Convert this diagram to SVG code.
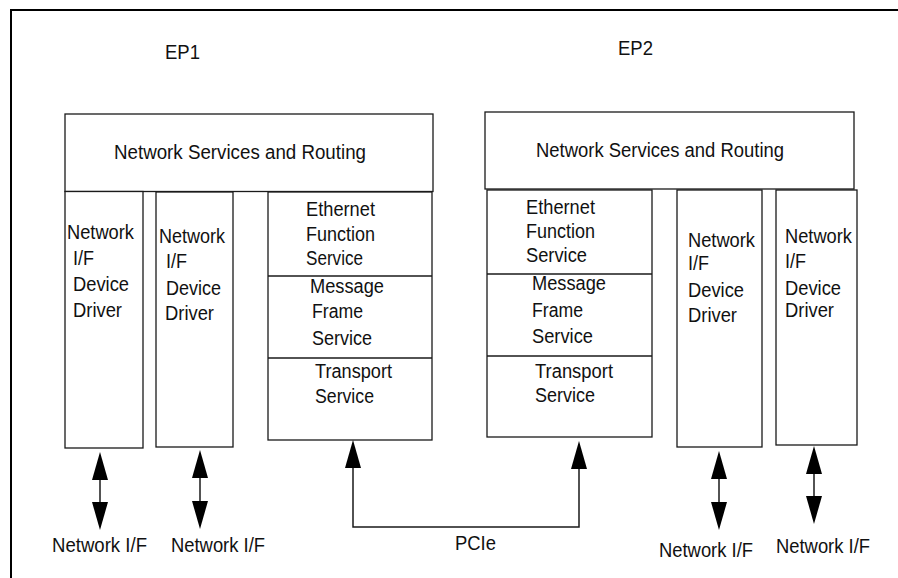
<svg xmlns="http://www.w3.org/2000/svg" width="898" height="578" viewBox="0 0 898 578">
<style>
.box{fill:#fff;stroke:#1a1a1a;stroke-width:1.3}
.t{font-family:"Liberation Sans",Arial,sans-serif;font-size:20px;fill:#111}
.c{fill:none;stroke:#1a1a1a;stroke-width:1.5}
</style>
<defs>
<marker id="ah" viewBox="0 0 28 16" refX="0" refY="8" markerWidth="28" markerHeight="16" markerUnits="userSpaceOnUse" orient="auto-start-reverse">
<path d="M0,0 L28,8 L0,16 z" fill="#000"/>
</marker>
</defs>
<rect width="898" height="578" fill="#fff"/>
<g id="frame">
<path d="M11,578 V10 H898" fill="none" stroke="#000" stroke-width="2"/>
</g>
<g id="ep1-label"><text class="t" x="165" y="59" textLength="35" lengthAdjust="spacingAndGlyphs">EP1</text></g>
<g id="ep2-label"><text class="t" x="618" y="55" textLength="35" lengthAdjust="spacingAndGlyphs">EP2</text></g>

<g id="nsr1">
<rect class="box" x="65" y="114" width="368" height="77.5"/>
<text class="t" x="114" y="159" textLength="252" lengthAdjust="spacingAndGlyphs">Network Services and Routing</text>
</g>
<g id="nsr2">
<rect class="box" x="485" y="112" width="369" height="77"/>
<text class="t" x="536" y="157" textLength="248" lengthAdjust="spacingAndGlyphs">Network Services and Routing</text>
</g>

<g id="drv1">
<rect class="box" x="65" y="191.5" width="78" height="256.5"/>
<text class="t" x="67" y="239" textLength="67" lengthAdjust="spacingAndGlyphs">Network</text>
<text class="t" x="73" y="265" textLength="21" lengthAdjust="spacingAndGlyphs">I/F</text>
<text class="t" x="73" y="291" textLength="56" lengthAdjust="spacingAndGlyphs">Device</text>
<text class="t" x="73" y="317" textLength="49" lengthAdjust="spacingAndGlyphs">Driver</text>
</g>
<g id="drv2">
<rect class="box" x="156" y="192" width="77" height="255"/>
<text class="t" x="159" y="243" textLength="66" lengthAdjust="spacingAndGlyphs">Network</text>
<text class="t" x="166" y="268" textLength="21" lengthAdjust="spacingAndGlyphs">I/F</text>
<text class="t" x="166" y="295" textLength="55" lengthAdjust="spacingAndGlyphs">Device</text>
<text class="t" x="165" y="320" textLength="49" lengthAdjust="spacingAndGlyphs">Driver</text>
</g>

<g id="stack1">
<rect class="box" x="268" y="192" width="164" height="248"/>
<line class="box" x1="268" y1="276" x2="432" y2="276"/>
<line class="box" x1="268" y1="358" x2="432" y2="358"/>
<text class="t" x="306" y="216" textLength="69" lengthAdjust="spacingAndGlyphs">Ethernet</text>
<text class="t" x="306" y="241" textLength="69" lengthAdjust="spacingAndGlyphs">Function</text>
<text class="t" x="306" y="265" textLength="57" lengthAdjust="spacingAndGlyphs">Service</text>
<text class="t" x="310" y="293" textLength="74" lengthAdjust="spacingAndGlyphs">Message</text>
<text class="t" x="312" y="318" textLength="51" lengthAdjust="spacingAndGlyphs">Frame</text>
<text class="t" x="312" y="345" textLength="60" lengthAdjust="spacingAndGlyphs">Service</text>
<text class="t" x="315" y="378" textLength="77" lengthAdjust="spacingAndGlyphs">Transport</text>
<text class="t" x="315" y="403" textLength="59" lengthAdjust="spacingAndGlyphs">Service</text>
</g>

<g id="stack2">
<rect class="box" x="487" y="190" width="165" height="247"/>
<line class="box" x1="487" y1="274" x2="652" y2="274"/>
<line class="box" x1="487" y1="356" x2="652" y2="356"/>
<text class="t" x="526" y="214" textLength="69" lengthAdjust="spacingAndGlyphs">Ethernet</text>
<text class="t" x="526" y="238" textLength="69" lengthAdjust="spacingAndGlyphs">Function</text>
<text class="t" x="526" y="262" textLength="61" lengthAdjust="spacingAndGlyphs">Service</text>
<text class="t" x="532" y="290" textLength="74" lengthAdjust="spacingAndGlyphs">Message</text>
<text class="t" x="532" y="317" textLength="51" lengthAdjust="spacingAndGlyphs">Frame</text>
<text class="t" x="532" y="343" textLength="61" lengthAdjust="spacingAndGlyphs">Service</text>
<text class="t" x="535" y="378" textLength="78" lengthAdjust="spacingAndGlyphs">Transport</text>
<text class="t" x="535" y="402" textLength="60" lengthAdjust="spacingAndGlyphs">Service</text>
</g>

<g id="drv3">
<rect class="box" x="677" y="190" width="85" height="257"/>
<text class="t" x="688" y="247" textLength="67" lengthAdjust="spacingAndGlyphs">Network</text>
<text class="t" x="688" y="270" textLength="21" lengthAdjust="spacingAndGlyphs">I/F</text>
<text class="t" x="688" y="297" textLength="56" lengthAdjust="spacingAndGlyphs">Device</text>
<text class="t" x="688" y="322" textLength="49" lengthAdjust="spacingAndGlyphs">Driver</text>
</g>
<g id="drv4">
<rect class="box" x="776" y="190" width="81" height="255"/>
<text class="t" x="785" y="243" textLength="67" lengthAdjust="spacingAndGlyphs">Network</text>
<text class="t" x="785" y="268" textLength="21" lengthAdjust="spacingAndGlyphs">I/F</text>
<text class="t" x="785" y="295" textLength="56" lengthAdjust="spacingAndGlyphs">Device</text>
<text class="t" x="785" y="317" textLength="49" lengthAdjust="spacingAndGlyphs">Driver</text>
</g>

<g id="connectors">
<line class="c" x1="100" y1="480" x2="100" y2="502" marker-start="url(#ah)" marker-end="url(#ah)"/>
<line class="c" x1="200" y1="478" x2="200" y2="501" marker-start="url(#ah)" marker-end="url(#ah)"/>
<line class="c" x1="719" y1="479" x2="719" y2="502" marker-start="url(#ah)" marker-end="url(#ah)"/>
<line class="c" x1="814" y1="474" x2="814" y2="496" marker-start="url(#ah)" marker-end="url(#ah)"/>
<path class="c" d="M353,468 V527 H579 V469" marker-start="url(#ah)" marker-end="url(#ah)"/>
</g>

<g id="labels">
<text class="t" x="52" y="552" textLength="95" lengthAdjust="spacingAndGlyphs">Network I/F</text>
<text class="t" x="171" y="552" textLength="94" lengthAdjust="spacingAndGlyphs">Network I/F</text>
<text class="t" x="455" y="550" textLength="41" lengthAdjust="spacingAndGlyphs">PCIe</text>
<text class="t" x="659" y="557" textLength="94" lengthAdjust="spacingAndGlyphs">Network I/F</text>
<text class="t" x="776" y="553" textLength="94" lengthAdjust="spacingAndGlyphs">Network I/F</text>
</g>
</svg>
